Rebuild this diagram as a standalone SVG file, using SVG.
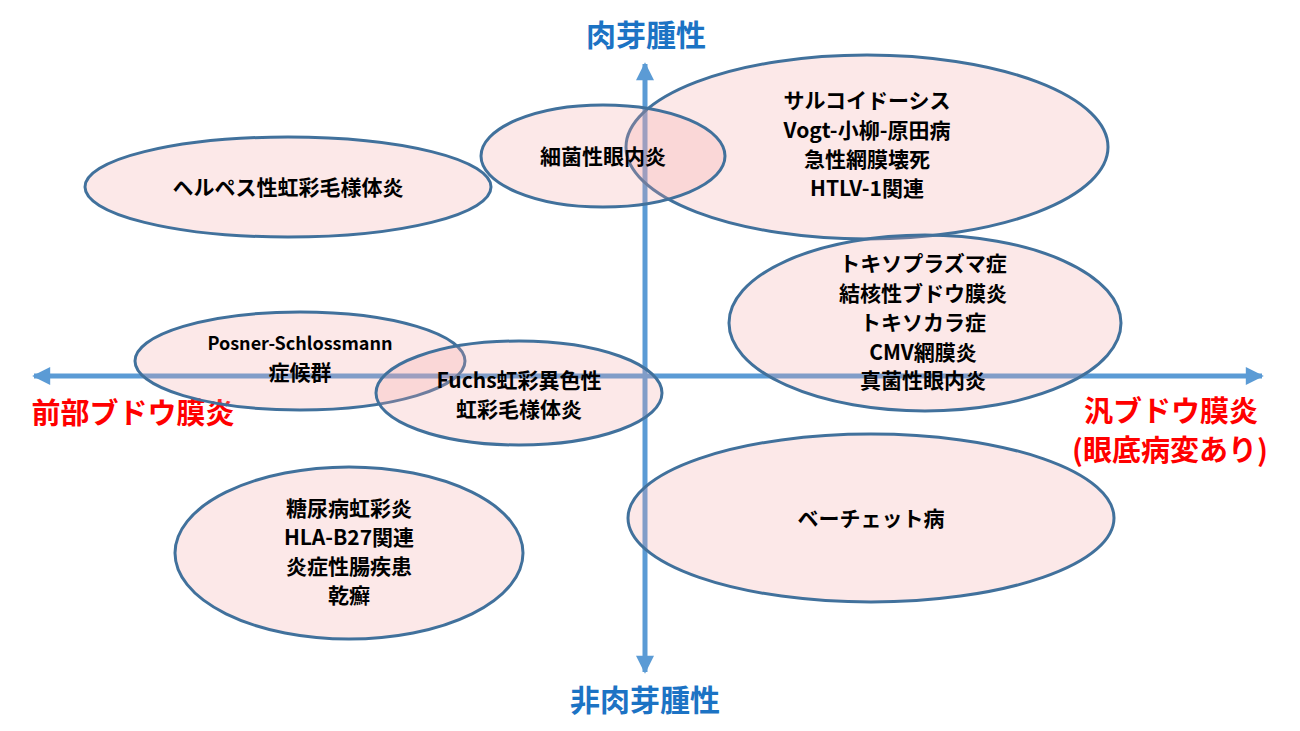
<svg xmlns="http://www.w3.org/2000/svg" width="1300" height="731" viewBox="0 0 1300 731">
  <defs>
    <marker id="arrow" viewBox="0 0 10 10" refX="9" refY="5" markerWidth="3.8" markerHeight="3.6" orient="auto" markerUnits="strokeWidth">
      <path d="M0,0 L10,5 L0,10 Z" fill="#5B9BD5"/>
    </marker>
    <style>
      .axis { stroke: #5B9BD5; stroke-width: 5; fill: none; }
      .node ellipse { fill: #F2A5A5; fill-opacity: 0.25; stroke: #41719C; stroke-width: 3; }
      .node text { font-family: "Noto Sans CJK JP", "Noto Sans", sans-serif; font-weight: bold; font-size: 21px; fill: #000; text-anchor: middle; }
      .blue { font-family: "Noto Sans CJK JP", "Noto Sans", sans-serif; font-weight: bold; font-size: 30px; fill: #1C73C4; text-anchor: middle; }
      .red { font-family: "Noto Sans CJK JP", "Noto Sans", sans-serif; font-weight: bold; font-size: 29px; fill: #FF0000; text-anchor: middle; }
    </style>
  </defs>
  <rect width="1300" height="731" fill="#FFFFFF"/>
  <g id="connectors">
    <line class="axis" x1="645" y1="376" x2="645" y2="64" marker-end="url(#arrow)"/>
    <line class="axis" x1="645" y1="376" x2="645" y2="672" marker-end="url(#arrow)"/>
    <line class="axis" x1="645" y1="376" x2="34" y2="376" marker-end="url(#arrow)"/>
    <line class="axis" x1="645" y1="376" x2="1262" y2="376" marker-end="url(#arrow)"/>
  </g>
  <g id="axis-labels">
    <text class="blue" x="646" y="46">肉芽腫性</text>
    <text class="blue" x="645" y="711">非肉芽腫性</text>
    <text class="red" x="133" y="424">前部ブドウ膜炎</text>
    <text class="red" x="1171" y="422">汎ブドウ膜炎</text>
    <text class="red" x="1170" y="461">(眼底病変あり)</text>
  </g>
  <g id="herpes" class="node">
    <ellipse cx="288" cy="187" rx="203" ry="50"/>
    <text x="288" y="195">ヘルペス性虹彩毛様体炎</text>
  </g>
  <g id="sarcoid" class="node">
    <ellipse cx="867" cy="147" rx="241" ry="92"/>
    <text x="867" y="108">サルコイドーシス</text>
    <text x="867" y="138">Vogt-小柳-原田病</text>
    <text x="867" y="167">急性網膜壊死</text>
    <text x="867" y="196">HTLV-1関連</text>
  </g>
  <g id="bacterial" class="node">
    <ellipse cx="603" cy="156" rx="122" ry="51"/>
    <text x="603" y="164">細菌性眼内炎</text>
  </g>
  <g id="toxo" class="node">
    <ellipse cx="925" cy="323" rx="196" ry="88"/>
    <text x="923" y="271">トキソプラズマ症</text>
    <text x="923" y="301">結核性ブドウ膜炎</text>
    <text x="923" y="330">トキソカラ症</text>
    <text x="923" y="360">CMV網膜炎</text>
    <text x="923" y="388">真菌性眼内炎</text>
  </g>
  <g id="posner" class="node">
    <ellipse cx="300" cy="361" rx="165" ry="49"/>
    <text x="300" y="350" style="font-size:18px">Posner-Schlossmann</text>
    <text x="300" y="380">症候群</text>
  </g>
  <g id="fuchs" class="node">
    <ellipse cx="519" cy="393" rx="143" ry="52"/>
    <text x="519" y="388">Fuchs虹彩異色性</text>
    <text x="519" y="417">虹彩毛様体炎</text>
  </g>
  <g id="diabetes" class="node">
    <ellipse cx="349" cy="553" rx="174" ry="86"/>
    <text x="349" y="516">糖尿病虹彩炎</text>
    <text x="349" y="545">HLA-B27関連</text>
    <text x="349" y="574">炎症性腸疾患</text>
    <text x="349" y="603">乾癬</text>
  </g>
  <g id="behcet" class="node">
    <ellipse cx="871" cy="518" rx="243" ry="84"/>
    <text x="871" y="526">ベーチェット病</text>
  </g>
</svg>
